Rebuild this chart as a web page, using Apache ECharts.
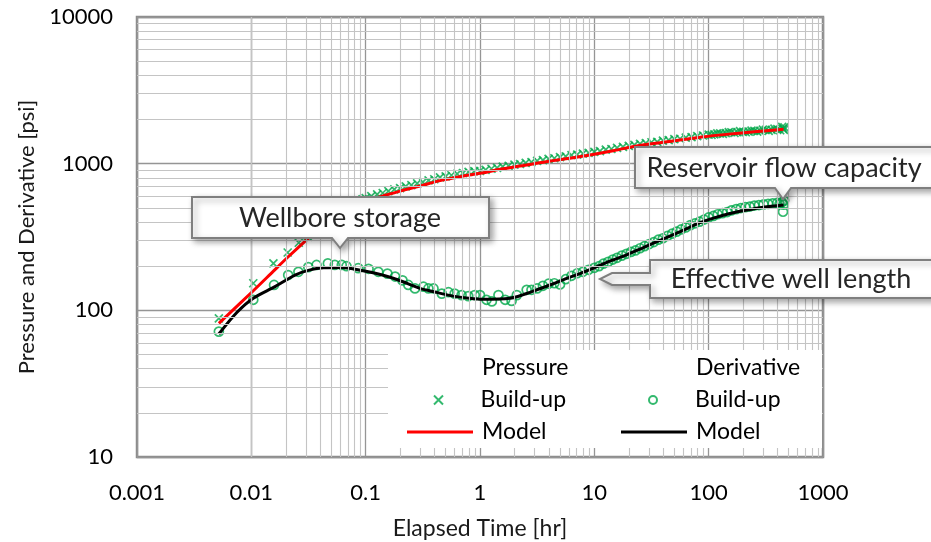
<!DOCTYPE html>
<html><head><meta charset="utf-8">
<script src="https://cdn.jsdelivr.net/npm/echarts@6/dist/echarts.min.js"></script>
<style>html,body{margin:0;padding:0;background:#fff}#c{width:931px;height:542px}</style>
</head><body><div id="c"></div>
<script>
const xTicks = [0.001, 0.01, 0.1, 1, 10, 100, 1000];
const yTicks = [10, 100, 1000, 10000];

const pressureBuildT = [0.0052,0.0104,0.0156,0.0208,0.026,0.0312,0.0364,0.0416,0.0468,0.052,0.062,0.073,0.083,0.094,
 0.100,0.112,0.126,0.141,0.158,0.178,0.200,0.224,0.251,0.282,0.316,0.355,0.398,0.447,0.501,0.562,0.631,0.708,0.794,0.891,
 1.00,1.12,1.26,1.41,1.58,1.78,2.00,2.24,2.51,2.82,3.16,3.55,3.98,4.47,5.01,5.62,6.31,7.08,7.94,8.91,
 10.0,11.2,12.6,14.1,15.8,17.8,20.0,22.4,25.1,28.2,31.6,35.5,39.8,44.7,50.1,56.2,63.1,70.8,79.4,89.1,
 100,112,126,141,158,178,200,224,251,282,316,355,398,447,
 106,119,133,150,168,188,211,237,266,298,335,376,422,440,455,460];
const pressureBuildP = [88,153,209,248,289,318,358,385,410,438,480,520,548,572,
 583,600,618,631,649,668,682,701,714,735,748,769,783,807,818,834,851,863,879,889,
 891,906,923,935,955,966,984,995,1014,1026,1045,1057,1079,1089,1109,1122,1143,1151,1172,1183,
 1205,1219,1245,1259,1282,1300,1324,1343,1365,1380,1400,1406,1436,1445,1469,1479,1503,1517,1542,1556,
 1578,1585,1607,1614,1637,1641,1648,1656,1671,1675,1698,1702,1722,1730,
 1570,1610,1596,1640,1618,1665,1638,1680,1655,1705,1672,1735,1690,1780,1700,1770];

const pressureModelT = [0.0052,0.0104,0.0156,0.0208,0.0315,0.05,0.08,0.1,0.143,0.2,0.3,0.448,0.7,1.0,1.5,2.56,4,6.1,10,15,23.4,40,60,91,150,250,452];
const pressureModelP = [81.6,136,185,230,310,420,515,555,603,650,705,766,820,859,915,980,1040,1089,1161,1230,1321,1400,1460,1527,1590,1650,1715];

const derivBuildT = [0.0052,0.0104,0.0158,0.021,0.0258,0.0315,0.0372,0.0467,0.0537,0.0618,0.068,0.086,0.106,0.129,0.155,0.181,0.21,0.236,0.27,0.32,0.354,0.392,0.463,0.53,0.60,0.69,0.79,0.90,1.0,1.14,1.27,1.45,1.66,1.89,2.1,2.56,
 2.82,3.16,3.55,3.98,4.47,5.01,5.62,6.31,7.08,7.94,8.91,
 10,11,12,13.2,14.5,15.8,17.4,19.1,20.9,22.9,25.1,27.5,30.2,33.1,36.3,39.8,43.7,47.9,52.5,57.5,63.1,69.2,75.9,83.2,91.2,
 100,110,120,132,145,158,174,191,209,229,251,275,302,331,363,398,417,437,447,452,457];
const derivBuildP = [71.6,118,149,174,183,197,204,209,204,204,200,194,192,183,178,170,160,149,141,145,141,141,130,133,130,127,125,127,127,118,115,127,118,116,127,138,
 138,141,147,152,153,150,163,172,179,183,189,
 195,200,208,214,222,228,236,243,250,256,265,274,283,292,303,310,322,333,344,356,368,381,392,402,416,
 430,440,452,460,468,480,490,498,505,510,518,522,528,532,536,540,530,545,470,525,560];

const derivModelT = [0.0052,0.0075,0.0104,0.0161,0.0241,0.032,0.0427,0.0618,0.1057,0.14,0.193,0.299,0.378,0.585,0.8,1.07,1.83,2.4,3.14,4.2,5.74,7.5,9.83,14,19.2,26,35.2,56.4,80,110,150,216,300,452];
const derivModelP = [69,97,121,145,174,188,195,196,183,174,161,141,135,125,121,119,121,128,138,150,165,178,194,218,239,265,294,344,390,425,455,483,505,523];

const FONT = 'Lato';
const zip = (a, b) => a.map((v, i) => [v, b[i]]);
const minorLines = [];
for (let i = 0; i < xTicks.length - 1; i++) for (let m = 2; m < 10; m++) minorLines.push({xAxis: m * xTicks[i]});
for (let i = 0; i < yTicks.length - 1; i++) for (let m = 2; m < 10; m++) minorLines.push({yAxis: m * yTicks[i]});
const fmt = v => String(Number(Number(v).toPrecision(2)));

const calloutStyle = {fill:'#fff', stroke:'#7f7f7f', lineWidth:2, shadowBlur:6, shadowOffsetX:3, shadowOffsetY:3, shadowColor:'rgba(0,0,0,0.35)'};
const calloutText = (x, y, t) => ({type:'text', x:x, y:y, z:101, silent:true,
  style:{text:t, font:'27px ' + FONT, fill:'#262626', align:'center', verticalAlign:'middle'}});

const legendText = {fontSize:23, fontFamily:FONT, color:'#000', lineHeight:24, padding:[0,0,0,4]};
const mkLegend = (names, left, top, h, icon, prefix) => ({
  data: names.map(n => icon ? {name:n, icon:icon} : n), orient:'vertical', left:left, top:top, padding:0,
  itemWidth:66, itemHeight:h, selectedMode:false, z:60,
  formatter: n => n.replace(prefix, ''), textStyle: legendText});

const chart = echarts.init(document.getElementById('c'), null, {renderer:'canvas'});
chart.setOption({
  animation: false,
  backgroundColor: '#fff',
  textStyle: {fontFamily: FONT},
  grid: {left:137, right:108, top:17, bottom:85, show:true, borderColor:'#8c8c8c', borderWidth:2.5, backgroundColor:'transparent', outerBoundsMode:'none'},
  xAxis: {type:'log', logBase:10, min:xTicks[0], max:xTicks[xTicks.length-1], splitNumber:6,
    name:'Elapsed Time [hr]', nameLocation:'middle', nameGap:60,
    nameTextStyle:{fontSize:23, color:'#1a1a1a', fontFamily:FONT},
    axisLine:{show:false}, axisTick:{show:false},
    axisLabel:{fontSize:22, color:'#000', margin:25, formatter:fmt, fontFamily:FONT},
    splitLine:{show:true, lineStyle:{color:'#959595', width:1.3}}},
  yAxis: {type:'log', logBase:10, min:yTicks[0], max:yTicks[yTicks.length-1], splitNumber:3,
    name:'Pressure and Derivative [psi]', nameLocation:'middle', nameGap:88,
    nameTextStyle:{fontSize:22, color:'#1a1a1a', fontFamily:FONT},
    axisLine:{show:false}, axisTick:{show:false},
    axisLabel:{fontSize:22, color:'#000', margin:24, formatter:fmt, fontFamily:FONT},
    splitLine:{show:true, lineStyle:{color:'#959595', width:1.3}}},
  legend: [
    mkLegend(['Pressure Build-up'], 433, 388, 9, null, 'Pressure '),
    mkLegend(['Pressure Model'], 407, 420, 3, 'rect', 'Pressure '),
    mkLegend(['Derivative Build-up'], 648, 388, 8, null, 'Derivative '),
    mkLegend(['Derivative Model'], 621, 420, 3, 'rect', 'Derivative ')
  ],
  series: [
    {name:'minor grid', type:'line', data:[[1,100]], symbol:'none', lineStyle:{opacity:0}, z:1, silent:true,
     markLine:{silent:true, symbol:['none','none'], label:{show:false}, emphasis:{disabled:true},
       lineStyle:{color:'#c4c4c4', width:1.1, type:'solid'}, data:minorLines}},
    {name:'Pressure Build-up', type:'scatter', data:zip(pressureBuildT, pressureBuildP), z:3,
     symbol:'path://M0,0L10,10M10,0L0,10', symbolSize:8,
     itemStyle:{color:'rgba(0,0,0,0)', borderColor:'#00a84a', borderWidth:1.7}},
    {name:'Derivative Build-up', type:'scatter', data:zip(derivBuildT, derivBuildP), z:3,
     symbol:'circle', symbolSize:9,
     itemStyle:{color:'rgba(0,0,0,0)', borderColor:'#00a84a', borderWidth:1.7}},
    {name:'Pressure Model', type:'line', data:zip(pressureModelT, pressureModelP), z:4, smooth:0.3,
     symbol:'none', itemStyle:{color:'#ff0000'}, lineStyle:{color:'#ff0000', width:3}},
    {name:'Derivative Model', type:'line', data:zip(derivModelT, derivModelP), z:4, smooth:0.3,
     symbol:'none', itemStyle:{color:'#000'}, lineStyle:{color:'#000', width:3}}
  ],
  graphic: {elements: [
    {type:'rect', z:50, silent:true, shape:{x:388, y:350, width:434, height:98}, style:{fill:'#fff'}},
    {type:'text', x:482, y:368, z:61, silent:true, style:{text:'Pressure', font:'23px ' + FONT, fill:'#000', verticalAlign:'middle'}},
    {type:'text', x:696, y:368, z:61, silent:true, style:{text:'Derivative', font:'23px ' + FONT, fill:'#000', verticalAlign:'middle'}},
    {type:'polygon', z:100, silent:true, shape:{points:[[192,197],[489,197],[489,238],[348,238],[340,248],[332,238],[192,238]]}, style:calloutStyle},
    calloutText(340, 218, 'Wellbore storage'),
    {type:'polygon', z:100, silent:true, shape:{points:[[635,147],[940,147],[940,188],[791,188],[783,199],[775,188],[635,188]]}, style:calloutStyle},
    calloutText(784, 168, 'Reservoir flow capacity'),
    {type:'polygon', z:100, silent:true, shape:{points:[[650,260],[940,260],[940,298],[650,298],[650,285],[612,285],[600,279],[612,273],[650,273]]}, style:calloutStyle},
    calloutText(791, 279, 'Effective well length')
  ]}
});
</script></body></html>
